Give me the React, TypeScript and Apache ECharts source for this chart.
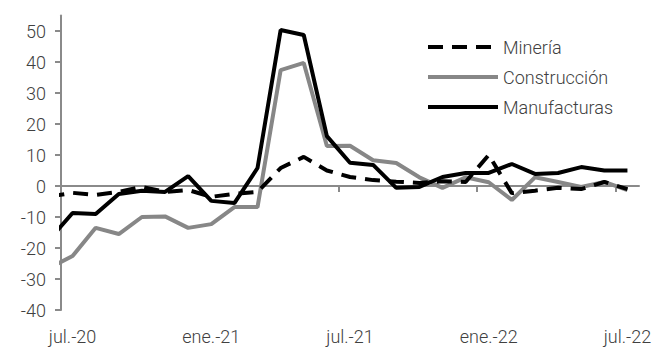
import React, { useEffect, useRef } from "react";
import * as echarts from "echarts";

// Monthly series; the first month (jun.-20) lies just left of the plot and is clipped by it.
const months = [
  "jun.-20", "jul.-20", "ago.-20", "sep.-20", "oct.-20", "nov.-20", "dic.-20",
  "ene.-21", "feb.-21", "mar.-21", "abr.-21", "may.-21", "jun.-21", "jul.-21",
  "ago.-21", "sep.-21", "oct.-21", "nov.-21", "dic.-21", "ene.-22", "feb.-22",
  "mar.-22", "abr.-22", "may.-22", "jun.-22", "jul.-22",
];

const mineria = [
  -3.4, -2.2, -2.9, -1.9, -0.3, -1.9, -1.3, -3.5, -2.5, -1.9, 5.8, 9.4, 5.0,
  2.9, 1.9, 1.4, 1.0, 1.5, 1.3, 10.0, -2.3, -1.5, -0.6, -1.0, 1.3, -1.0,
];

const construccion = [
  -26.4, -22.6, -13.5, -15.5, -10.0, -9.8, -13.5, -12.3, -6.8, -6.8, 37.4, 39.7,
  12.9, 13.0, 8.3, 7.4, 2.8, -0.6, 2.8, 1.2, -4.5, 2.8, 1.3, -0.3, 1.3, -1.3,
];

const manufacturas = [
  -17.2, -8.7, -9.0, -2.6, -1.5, -1.9, 3.2, -4.8, -5.5, 5.8, 50.3, 48.7, 16.1,
  7.5, 6.8, -0.6, -0.3, 2.9, 4.2, 4.2, 7.1, 3.9, 4.2, 6.1, 5.0, 5.0,
];

const xTickLabels = ["jul.-20", "ene.-21", "jul.-21", "ene.-22", "jul.-22"];
const yTickValues = [-40, -30, -20, -10, 0, 10, 20, 30, 40, 50];

const seriesNames = ["Minería", "Construcción", "Manufacturas"];

// position of a month on the numeric x axis: jul.-20 = 0
const pos = (m: string) => months.indexOf(m) - 1;
const toPairs = (vals: number[]) => vals.map((v, i) => [i - 1, v]);

const TEXT = "#404040";
const AXIS = "#8a8a8a";
const FONT = "Roboto";

export default function App() {
  const ref = useRef<HTMLDivElement>(null);

  useEffect(() => {
    if (!ref.current) return;
    const chart = echarts.init(ref.current, undefined, { renderer: "svg" });

    const labelPositions = xTickLabels.map(pos);
    const tickPositions = labelPositions.map((p) => p - 0.5);
    const xMin = pos(months[1]) - 0.5;
    const xMax = pos(months[months.length - 1]) + 0.5;

    chart.setOption({
      animation: false,
      backgroundColor: "#ffffff",
      textStyle: { fontFamily: FONT },
      grid: { left: 61, right: 29, top: 15.5, bottom: 54, containLabel: false },
      legend: {
        orient: "vertical",
        left: 421,
        top: 33,
        itemWidth: 70,
        itemHeight: 18,
        itemGap: 12,
        data: seriesNames,
        itemStyle: { opacity: 0 },
        lineStyle: { width: 4 },
        textStyle: { fontSize: 18, color: TEXT, fontFamily: FONT, fontWeight: 300 },
      },
      xAxis: [
        {
          type: "value",
          min: xMin,
          max: xMax,
          position: "bottom",
          axisLine: { show: false, onZero: false },
          axisTick: { show: false },
          splitLine: { show: false },
          axisLabel: {
            customValues: labelPositions,
            formatter: (v: number) => months[Math.round(v) + 1] ?? "",
            fontSize: 18,
            color: TEXT,
            fontFamily: FONT,
            fontWeight: 300,
            margin: 17,
          },
        },
        {
          type: "value",
          min: xMin,
          max: xMax,
          position: "bottom",
          axisLine: { show: true, onZero: true, lineStyle: { color: AXIS, width: 2 } },
          axisTick: {
            show: true,
            customValues: tickPositions,
            length: 6,
            lineStyle: { color: AXIS, width: 2 },
          },
          axisLabel: { show: false },
          splitLine: { show: false },
        },
      ],
      yAxis: {
        type: "value",
        min: -40,
        max: 55,
        axisLine: { show: true, onZero: false, lineStyle: { color: AXIS, width: 2 } },
        axisTick: {
          show: true,
          customValues: yTickValues,
          length: 6,
          lineStyle: { color: AXIS, width: 2 },
        },
        axisLabel: {
          customValues: yTickValues,
          fontSize: 18,
          color: TEXT,
          fontFamily: FONT,
          fontWeight: 300,
          margin: 15,
        },
        splitLine: { show: false },
      },
      series: [
        {
          name: "Construcción",
          type: "line",
          xAxisIndex: 0,
          symbol: "none",
          clip: true,
          data: toPairs(construccion),
          lineStyle: { color: "#878787", width: 4 },
          itemStyle: { color: "#878787" },
          z: 2,
        },
        {
          name: "Manufacturas",
          type: "line",
          xAxisIndex: 0,
          symbol: "none",
          clip: true,
          data: toPairs(manufacturas),
          lineStyle: { color: "#000000", width: 4 },
          itemStyle: { color: "#000000" },
          z: 3,
        },
        {
          name: "Minería",
          type: "line",
          xAxisIndex: 0,
          symbol: "none",
          clip: true,
          data: toPairs(mineria),
          lineStyle: { color: "#000000", width: 4, type: [15, 9] },
          itemStyle: { color: "#000000" },
          z: 4,
        },
      ],
    });

    return () => chart.dispose();
  }, []);

  return (
    <div
      ref={ref}
      style={{ position: "absolute", left: 0, top: 0, width: 668, height: 364 }}
    />
  );
}
